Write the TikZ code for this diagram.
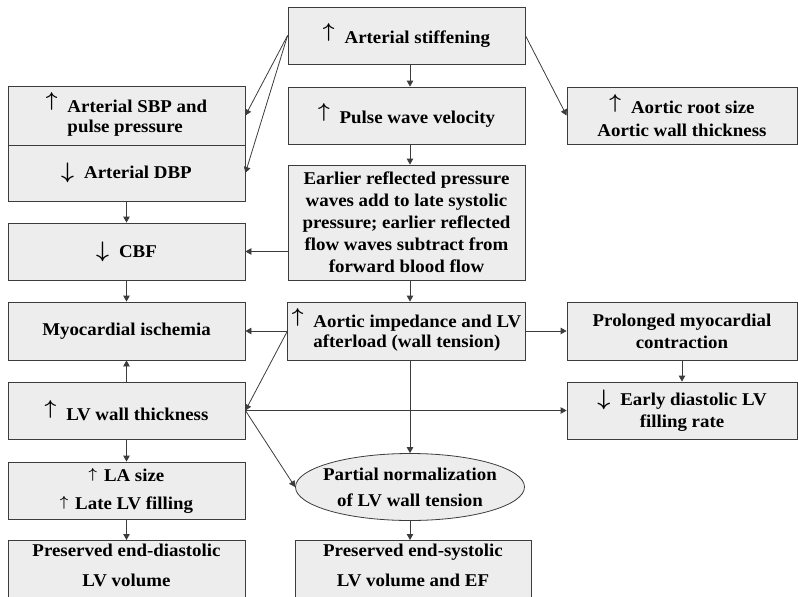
\documentclass[tikz,border=0pt]{standalone}
\usepackage{fontspec}
\setmainfont{Liberation Serif}[FakeStretch=1.05]
\usetikzlibrary{arrows.meta,shapes.geometric}
\definecolor{boxfill}{HTML}{EDEDED}
\definecolor{boxline}{HTML}{3C3C3C}
\newcommand{\upar}{\raisebox{5.5pt}{\resizebox*{!}{18pt}{\boldmath$\uparrow$}}\hspace{10pt}}
\newcommand{\dnar}{\raisebox{0pt}{\resizebox*{!}{20pt}{\boldmath$\downarrow$}}\hspace{10pt}}
\newcommand{\smup}{\raisebox{3pt}{\resizebox*{!}{13pt}{\boldmath$\uparrow$}}\hspace{7pt}}
\newcommand{\wide}[1]{\makebox[140pt]{#1}}

\begin{document}
\begin{tikzpicture}[x=1pt,y=-1pt
    , box/.style = {rectangle,draw=boxline,fill=boxfill,line width=0.8pt,inner sep=4pt,align=center,
                    minimum width=237pt,minimum height=57pt,font=\fontsize{18}{22}\selectfont\bfseries}
    , tight/.style = {font=\fontsize{18}{20}\selectfont\bfseries}
    , oval/.style = {ellipse,draw=boxline,fill=boxfill,line width=0.8pt,inner sep=0pt,align=center,
                    minimum width=229pt,minimum height=67pt,font=\fontsize{18}{26}\selectfont\bfseries}
    , link/.style = {draw=boxline,line width=0.8pt,-{Triangle[length=6pt,width=6.5pt]}}
]
\useasboundingbox (0,0) rectangle (798,597);
\clip (0,0) rectangle (798,597);
% middle column
\node[box] (stiff) at (406.5,35.5) {\upar Arterial stiffening};
\node[box] (pwv) at (406.5,115.5) {\upar Pulse wave velocity};
\node[box,minimum height=115pt] (refl) at (406.5,222.5)
    {Earlier reflected pressure\\waves add to late systolic\\pressure; earlier reflected\\flow waves subtract from\\forward blood flow};
\node[box,tight,minimum height=58pt] (imp) at (406.5,331)
    {\upar\begin{tabular}[t]{@{}l@{}}Aortic impedance and LV\\afterload (wall tension)\end{tabular}};
\node[oval] (ell) at (410,487) {\wide{Partial normalization}\\\wide{of LV wall tension}};
\node[box,anchor=north,minimum width=236pt,font=\fontsize{18}{30}\selectfont\bfseries,text depth=22pt] (pes) at (413,540)
    {Preserved end-systolic\\LV volume and EF};
% left column
\node[box,tight,minimum height=59pt] (sbp) at (126.5,115.5)
    {\upar\begin{tabular}[t]{@{}l@{}}Arterial SBP and\\pulse pressure\end{tabular}};
\node[box,minimum height=56pt] (dbp) at (126.5,173) {\dnar Arterial DBP};
\node[box] (cbf) at (126.5,251.5) {\dnar CBF};
\node[box,minimum height=58pt] (isch) at (126.5,331) {Myocardial ischemia};
\node[box] (lvw) at (126.5,410.5) {\upar LV wall thickness};
\node[box,font=\fontsize{18}{28}\selectfont\bfseries] (la) at (126.5,490.5) {\smup LA size\\\smup Late LV filling};
\node[box,anchor=north,font=\fontsize{18}{30}\selectfont\bfseries,text depth=22pt] (ped) at (126.5,540)
    {Preserved end-diastolic\\LV volume};
% right column
\node[box,minimum width=230pt,font=\fontsize{18}{23}\selectfont\bfseries] (root) at (682,115.5)
    {\upar Aortic root size\\Aortic wall thickness};
\node[box,minimum width=230pt,minimum height=58pt] (prol) at (682,331) {Prolonged myocardial\\contraction};
\node[box,minimum width=230pt] (early) at (682,410.5) {\dnar Early diastolic LV\\filling rate};
% connectors
\draw[link] ([xshift=3.5pt]stiff.south) -- ([xshift=3.5pt]pwv.north);
\draw[link] (stiff.west) -- (sbp.east);
\draw[link] (stiff.west) -- (dbp.east);
\draw[link] (stiff.east) -- (root.west);
\draw[link] ([xshift=3.5pt]pwv.south) -- ([xshift=3.5pt]refl.north);
\draw[link] (dbp) -- (cbf);
\draw[link] (refl.west |- cbf) -- (cbf.east);
\draw[link] (cbf) -- (isch);
\draw[link] ([xshift=3.5pt]refl.south) -- ([xshift=3.5pt]imp.north);
\draw[link] (imp.west) -- (isch.east);
\draw[link] (imp.east) -- (prol.west);
\draw[link] (imp.west) -- (lvw.east);
\draw[link] (lvw) -- (isch);
\draw[link] (lvw.east) -- (early.west);
\draw[link] (lvw.east) -- (ell.west);
\draw[link] (imp.south -| ell.north) -- (ell.north);
\draw[link] (prol) -- (early);
\draw[link] (lvw) -- (la);
\draw[link] (la) -- (ped);
\draw[link] (ell.south) -- (ell.south |- pes.north);
\end{tikzpicture}
\end{document}
